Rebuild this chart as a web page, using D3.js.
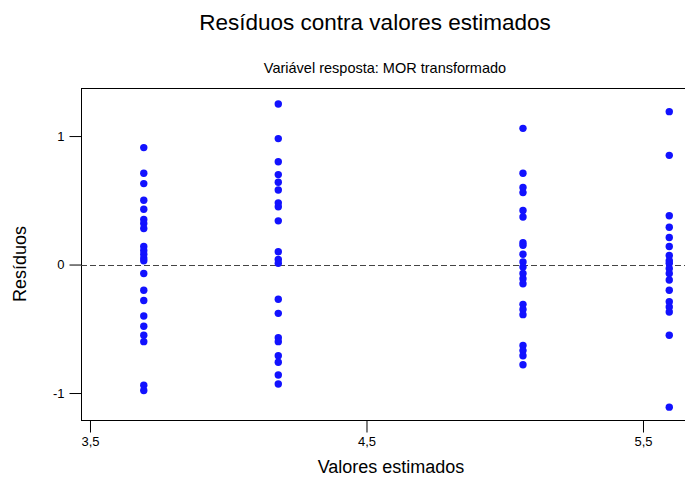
<!DOCTYPE html>
<html>
<head>
<meta charset="utf-8">
<script src="https://cdn.jsdelivr.net/npm/d3@7/dist/d3.min.js"></script>
<style>
  html, body { margin: 0; padding: 0; background: #fff; }
  svg { display: block; font-family: "Liberation Sans", Arial, sans-serif; }
</style>
</head>
<body>
<svg id="chart" width="685" height="477"></svg>
<script>
// Fitted values (one per treatment group) and the residuals observed in each group
const fitted = [3.6945, 4.181, 5.066, 5.595];

const residuals1 = [0.91, 0.71, 0.63, 0.50, 0.43, 0.35, 0.32, 0.28, 0.14, 0.11, 0.08, 0.05, 0.03,
  -0.07, -0.20, -0.28, -0.40, -0.48, -0.55, -0.60, -0.94, -0.98];
const residuals2 = [1.25, 0.98, 0.80, 0.70, 0.64, 0.58, 0.48, 0.45, 0.34, 0.10, 0.04, 0.01,
  -0.27, -0.38, -0.57, -0.60, -0.71, -0.76, -0.86, -0.93];
const residuals3 = [1.06, 0.71, 0.60, 0.56, 0.42, 0.37, 0.17, 0.15, 0.08, 0.02, -0.02, -0.07,
  -0.11, -0.15, -0.31, -0.35, -0.39, -0.63, -0.67, -0.71, -0.78];
const residuals4 = [1.19, 0.85, 0.38, 0.29, 0.21, 0.14, 0.07, 0.03, 0.01, -0.03, -0.07, -0.12,
  -0.20, -0.29, -0.33, -0.37, -0.55, -1.11];

const xTicks = [3.5, 4.5, 5.5];
const yTicks = [-1, 0, 1];

const titleText = "Resíduos contra valores estimados";
const subtitleText = "Variável resposta: MOR transformado";
const xTitle = "Valores estimados";
const yTitle = "Resíduos";

const groups = [residuals1, residuals2, residuals3, residuals4];
const points = [];
groups.forEach((g, i) => g.forEach(r => points.push({ fit: fitted[i], res: r })));

const svg = d3.select("#chart");
const plotLeft = 81, plotRight = 690, plotTop = 88, plotBottom = 420;

const x = d3.scaleLinear().domain([3.4675, 5.6700]).range([plotLeft, plotRight]);
const y = d3.scaleLinear().domain([-1.21, 1.374]).range([plotBottom, plotTop]);

// decimal comma, plain hyphen for negatives
const comma = v => v.toFixed(1).replace(".", ",");

// frame
svg.append("rect")
  .attr("x", plotLeft + 0.5).attr("y", plotTop + 0.5)
  .attr("width", plotRight - plotLeft).attr("height", plotBottom - plotTop)
  .attr("fill", "none").attr("stroke", "#000").attr("stroke-width", 1);

// zero reference line
svg.append("line")
  .attr("x1", plotLeft).attr("x2", plotRight)
  .attr("y1", Math.round(y(0)) + 0.5).attr("y2", Math.round(y(0)) + 0.5)
  .attr("stroke", "#444").attr("stroke-width", 1)
  .attr("stroke-dasharray", "6,3");

// axes
const yAxis = d3.axisLeft(y).tickValues(yTicks).tickSize(12).tickPadding(5)
  .tickFormat(d => String(d));
const gy = svg.append("g").attr("transform", `translate(${plotLeft + 0.5},0)`).call(yAxis);
gy.select(".domain").remove();
gy.selectAll("text").attr("font-size", 13).attr("fill", "#000")
  .attr("font-family", "Liberation Sans, Arial, sans-serif");

const xAxis = d3.axisBottom(x).tickValues(xTicks).tickSize(12).tickPadding(4)
  .tickFormat(comma);
const gx = svg.append("g").attr("transform", `translate(0,${plotBottom + 0.5})`).call(xAxis);
gx.select(".domain").remove();
gx.selectAll("text").attr("font-size", 13).attr("fill", "#000")
  .attr("font-family", "Liberation Sans, Arial, sans-serif");

// residual points
svg.append("g").selectAll("circle").data(points).join("circle")
  .attr("cx", d => x(d.fit))
  .attr("cy", d => y(d.res))
  .attr("r", 3.7)
  .attr("fill", "#1212ff");

// titles
svg.append("text").attr("x", 375).attr("y", 30)
  .attr("text-anchor", "middle").attr("font-size", 22.5).text(titleText);
svg.append("text").attr("x", 385).attr("y", 73)
  .attr("text-anchor", "middle").attr("font-size", 14.5).text(subtitleText);
svg.append("text").attr("x", 391).attr("y", 473)
  .attr("text-anchor", "middle").attr("font-size", 18).text(xTitle);
svg.append("text")
  .attr("transform", `translate(26,264) rotate(-90)`)
  .attr("text-anchor", "middle").attr("font-size", 18).text(yTitle);
</script>
</body>
</html>
